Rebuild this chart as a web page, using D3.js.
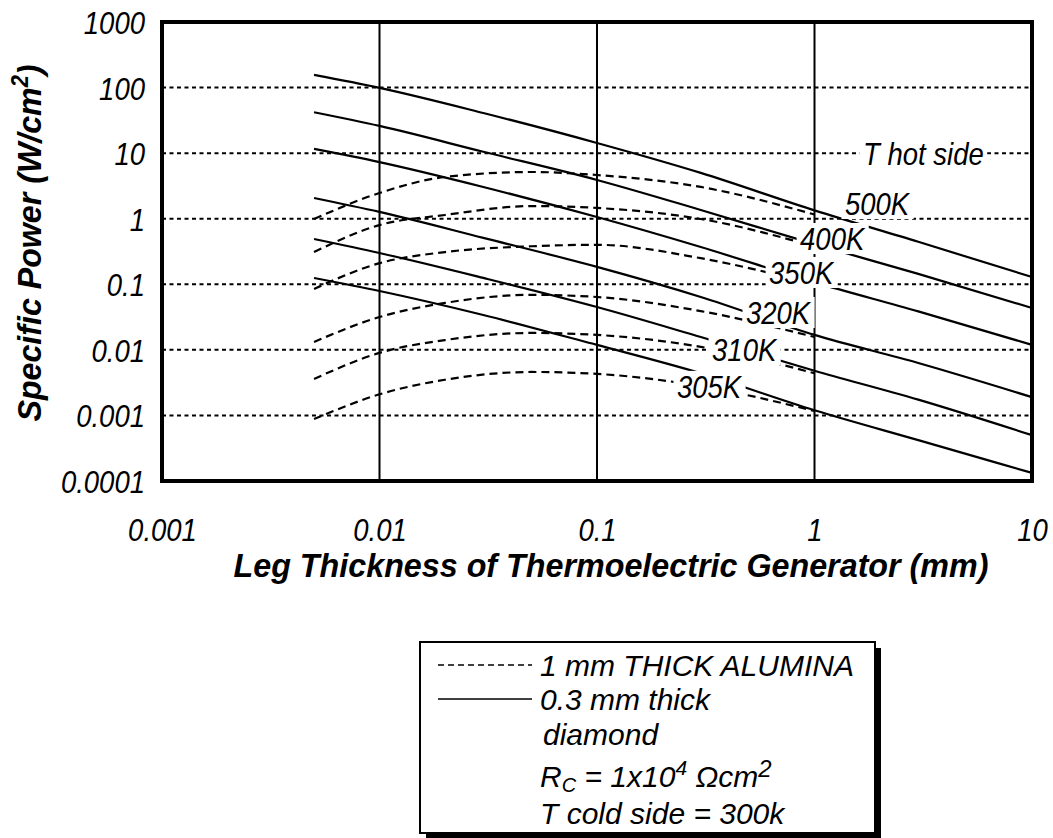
<!DOCTYPE html>
<html>
<head>
<meta charset="utf-8">
<script src="https://cdn.jsdelivr.net/npm/d3@7"></script>
<style>
body { margin: 0; background: #fff; }
svg text { font-family: "Liberation Sans", Arial, sans-serif; font-style: italic; fill: #000; }
</style>
</head>
<body>
<script>
// ---- data ----
var xTicks = [0.001, 0.01, 0.1, 1, 10];
var xTickLabels = ["0.001", "0.01", "0.1", "1", "10"];
var yTicks = [0.0001, 0.001, 0.01, 0.1, 1, 10, 100, 1000];
var yTickLabels = ["0.0001", "0.001", "0.01", "0.1", "1", "10", "100", "1000"];
var xGrid = [0.01, 0.1, 1];
var yGrid = [0.001, 0.01, 0.1, 1, 10, 100];

var temps = ["500K", "400K", "350K", "320K", "310K", "305K"];

// 0.3 mm thick diamond (solid)
var diamondX = [0.005, 0.01, 0.03, 0.1, 0.3, 1, 3, 10];
var diamond500K = [156, 99, 41, 14.3, 5.0, 1.34, 0.445, 0.129];
var diamond400K = [42, 26, 10.5, 3.9, 1.36, 0.41, 0.144, 0.0435];
var diamond350K = [11.6, 7.3, 3.05, 1.06, 0.37, 0.107, 0.0387, 0.0119];
var diamond320K = [2.07, 1.27, 0.51, 0.184, 0.064, 0.0169, 0.0063, 0.0019];
var diamond310K = [0.49, 0.30, 0.125, 0.045, 0.0157, 0.0048, 0.00174, 0.0005];
var diamond305K = [0.125, 0.079, 0.034, 0.0119, 0.0044, 0.0012, 0.00042, 0.000133];

// 1 mm thick alumina (dashed)
var aluminaX = [0.005, 0.01, 0.02, 0.05, 0.1, 0.3, 1];
var alumina500K = [0.99, 2.47, 4.33, 5.16, 4.64, 3.05, 1.16];
var alumina400K = [0.31, 0.80, 1.14, 1.56, 1.46, 0.99, 0.38];
var alumina350K = [0.085, 0.21, 0.31, 0.38, 0.40, 0.25, 0.10];
var alumina320K = [0.0132, 0.0317, 0.052, 0.069, 0.064, 0.039, 0.0157];
var alumina310K = [0.0036, 0.0090, 0.0141, 0.0181, 0.0169, 0.0111, 0.0044];
var alumina305K = [0.00088, 0.0021, 0.0035, 0.0046, 0.0043, 0.0028, 0.00117];

var diamond = [diamond500K, diamond400K, diamond350K, diamond320K, diamond310K, diamond305K];
var alumina = [alumina500K, alumina400K, alumina350K, alumina320K, alumina310K, alumina305K];

// ---- layout ----
var width = 1053,
    height = 838;

var svg = d3.select("body").append("svg")
    .attr("width", width)
    .attr("height", height);

var x = d3.scaleLog().domain([0.001, 10]).range([162, 1032]);
var y = d3.scaleLog().domain([0.0001, 1000]).range([481, 22]);

// gridlines
svg.append("g").selectAll("line")
    .data(yGrid).enter()
    .append("line")
    .attr("x1", x(0.001)).attr("x2", x(10))
    .attr("y1", function(d){ return y(d); })
    .attr("y2", function(d){ return y(d); })
    .attr("stroke", "#000")
    .attr("stroke-width", 2)
    .attr("stroke-dasharray", "4,3.5");

svg.append("g").selectAll("line")
    .data(xGrid).enter()
    .append("line")
    .attr("x1", function(d){ return x(d); })
    .attr("x2", function(d){ return x(d); })
    .attr("y1", y(1000)).attr("y2", y(0.0001))
    .attr("stroke", "#000")
    .attr("stroke-width", 2);

var line = d3.line()
    .x(function(d){ return x(d[0]); })
    .y(function(d){ return y(d[1]); })
    .curve(d3.curveMonotoneX);

// alumina curves
svg.append("g").selectAll("path")
    .data(alumina).enter()
    .append("path")
    .attr("d", function(s){ return line(s.map(function(v, i){ return [aluminaX[i], v]; })); })
    .attr("fill", "none")
    .attr("stroke", "#000")
    .attr("stroke-width", 2.2)
    .attr("stroke-dasharray", "8,5");

// diamond curves
svg.append("g").selectAll("path")
    .data(diamond).enter()
    .append("path")
    .attr("d", function(s){ return line(s.map(function(v, i){ return [diamondX[i], v]; })); })
    .attr("fill", "none")
    .attr("stroke", "#000")
    .attr("stroke-width", 2.2);

// labels on the curves, knocked out of the lines with a white box
function knockLabel(txt, px, py, size){
  var g = svg.append("g").attr("transform", "translate(" + px + "," + py + ") scale(0.86,1)");
  var r = g.append("rect").attr("fill", "#fff");
  var t = g.append("text").attr("font-size", size).text(txt);
  var b = t.node().getBBox();
  r.attr("x", b.x - 4).attr("width", b.width + 8)
   .attr("y", -size * 0.72 - 4).attr("height", size * 0.72 + 8);
}

var tempLabelAt = [[1.38, 1.14], [0.858, 0.333], [0.618, 0.101], [0.484, 0.0248], [0.338, 0.00676], [0.233, 0.00185]];
temps.forEach(function(t, i){
  knockLabel(t, x(tempLabelAt[i][0]), y(tempLabelAt[i][1]), 32);
});
knockLabel("T hot side", x(1.67), y(6.59), 32);

// axes
var xAxis = svg.append("g")
    .attr("transform", "translate(0," + y(0.0001) + ")")
    .call(d3.axisBottom(x).tickValues(xTicks).tickSize(0)
      .tickFormat(function(d, i){ return xTickLabels[i]; }));
xAxis.attr("font-family", null).attr("font-size", null);
xAxis.select(".domain").remove();
xAxis.selectAll("text")
    .attr("y", 60).attr("dy", 0)
    .attr("font-size", 32)
    .attr("transform", "scale(0.86,1)");

var yAxis = svg.append("g")
    .attr("transform", "translate(" + x(0.001) + ",0)")
    .call(d3.axisLeft(y).tickValues(yTicks).tickSize(0)
      .tickFormat(function(d, i){ return yTickLabels[i]; }));
yAxis.attr("font-family", null).attr("font-size", null);
yAxis.select(".domain").remove();
yAxis.selectAll("text")
    .attr("x", -17 / 0.86).attr("dy", "0.36em")
    .attr("font-size", 32)
    .attr("transform", "scale(0.86,1)");

// plot frame
svg.append("rect")
    .attr("x", x(0.001)).attr("y", y(1000))
    .attr("width", x(10) - x(0.001)).attr("height", y(0.0001) - y(1000))
    .attr("fill", "none")
    .attr("stroke", "#000")
    .attr("stroke-width", 4);

// axis titles
var yt = svg.append("text")
    .attr("transform", "translate(41,243) rotate(-90)")
    .attr("text-anchor", "middle")
    .attr("font-size", 34)
    .attr("font-weight", "bold")
    .attr("textLength", 357)
    .attr("lengthAdjust", "spacingAndGlyphs");
yt.append("tspan").text("Specific Power (W/cm");
yt.append("tspan").attr("dy", -13).attr("font-size", 23).text("2");
yt.append("tspan").attr("dy", 13).text(")");

svg.append("text")
    .attr("x", 611).attr("y", 577)
    .attr("text-anchor", "middle")
    .attr("font-size", 34)
    .attr("font-weight", "bold")
    .attr("textLength", 755)
    .attr("lengthAdjust", "spacingAndGlyphs")
    .text("Leg Thickness of Thermoelectric Generator (mm)");

// legend
var lg = svg.append("g");
lg.append("rect").attr("x", 426).attr("y", 648).attr("width", 455).attr("height", 191).attr("fill", "#000");
lg.append("rect").attr("x", 420).attr("y", 642).attr("width", 455).attr("height", 191)
    .attr("fill", "#fff").attr("stroke", "#000").attr("stroke-width", 2);
lg.append("line").attr("x1", 438).attr("x2", 532).attr("y1", 665).attr("y2", 665)
    .attr("stroke", "#000").attr("stroke-width", 1.6).attr("stroke-dasharray", "6,4");
lg.append("line").attr("x1", 438).attr("x2", 532).attr("y1", 699).attr("y2", 699)
    .attr("stroke", "#000").attr("stroke-width", 1.6);

function legendText(px, py){
  return lg.append("text")
      .attr("x", px).attr("y", py)
      .attr("font-size", 30);
}
legendText(540, 676).text("1 mm THICK ALUMINA");
legendText(540, 710).text("0.3 mm thick");
legendText(543, 745).text("diamond");
var rc = legendText(540, 787);
rc.append("tspan").text("R");
rc.append("tspan").attr("dy", 5).attr("font-size", 20).text("C");
rc.append("tspan").attr("dy", -5).text(" = 1x10");
rc.append("tspan").attr("dy", -12).attr("font-size", 21).text("4");
rc.append("tspan").attr("dy", 12).text(" \u03A9cm");
rc.append("tspan").attr("dy", -10).attr("font-size", 24).text("2");
legendText(540, 824).text("T cold side = 300k");
</script>
</body>
</html>
